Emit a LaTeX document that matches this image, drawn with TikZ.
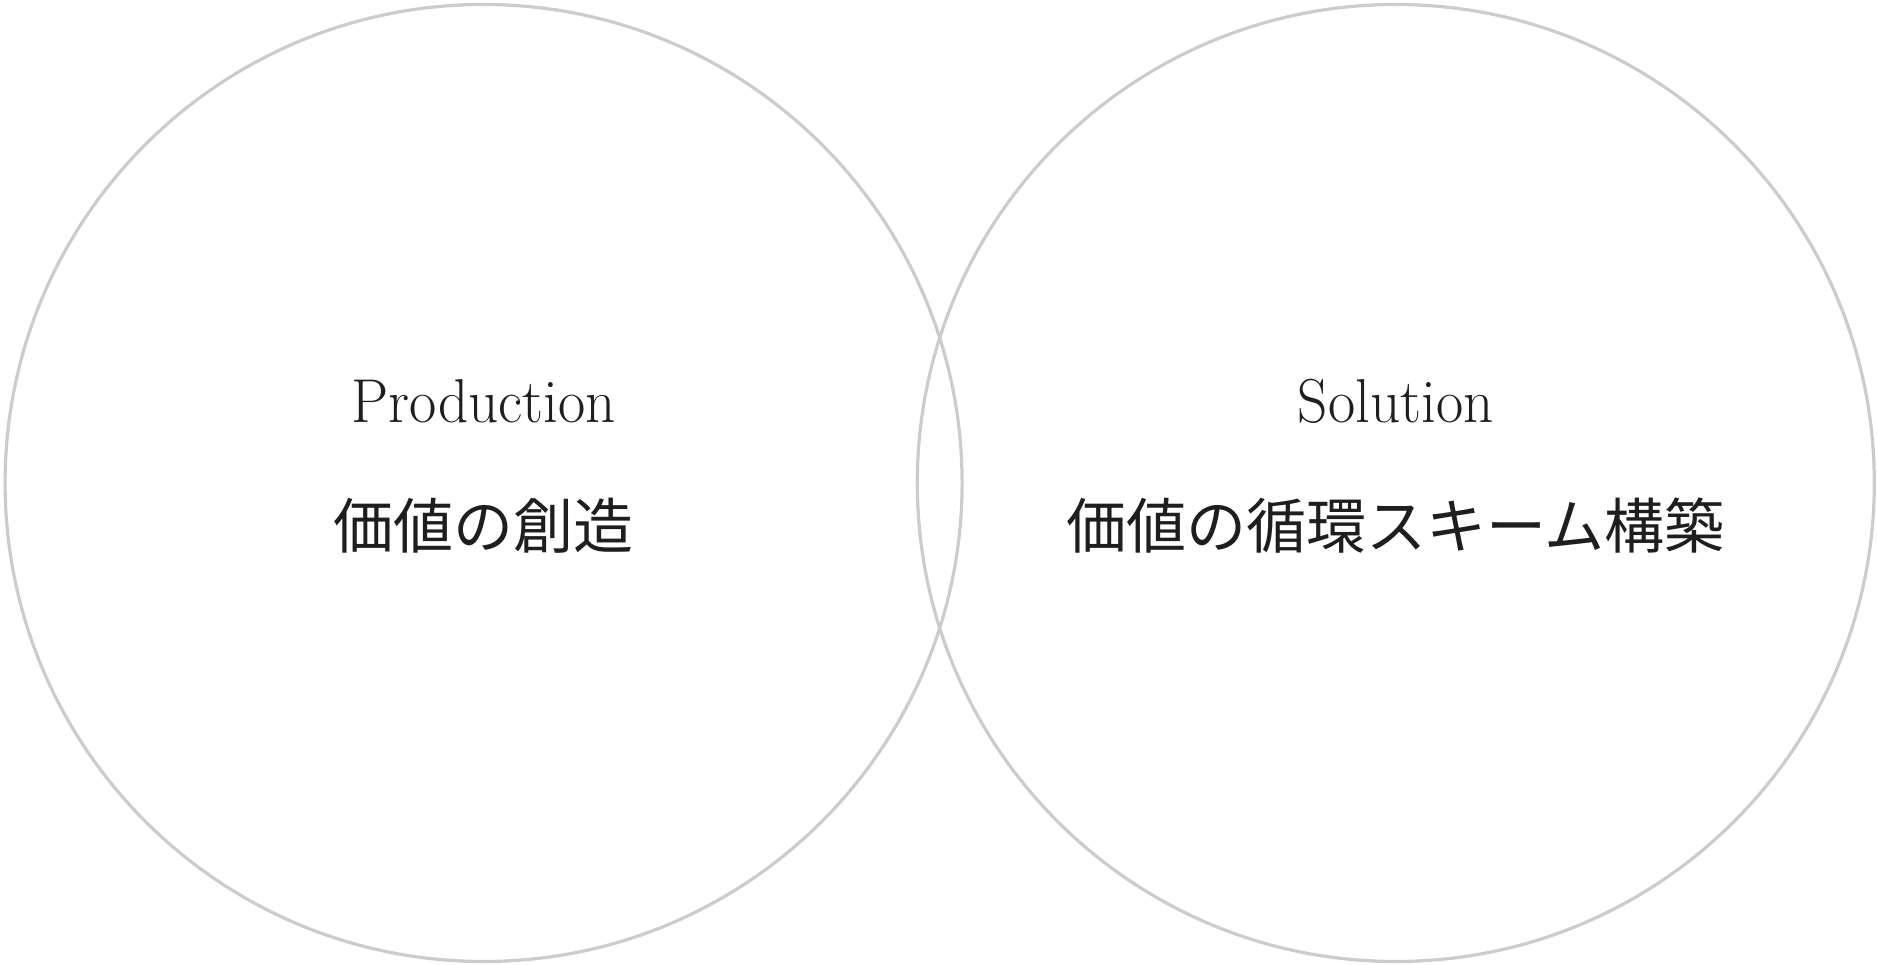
\documentclass[tikz,border=0pt]{standalone}
\usepackage{fontspec}
\usepackage{graphicx}
\newfontfamily\cjk{Noto Sans CJK JP}
\definecolor{ringgray}{RGB}{204,204,204}
\definecolor{inkdark}{RGB}{30,30,30}
\begin{document}
\begin{tikzpicture}[x=1pt,y=1pt,
  ring/.style={circle,draw=ringgray,line width=3.2pt,minimum size=957pt,inner sep=0pt},
  entitle/.style={anchor=base,inner sep=0pt,text=inkdark,font=\fontsize{62}{70}\selectfont},
  jptitle/.style={anchor=base,inner sep=0pt,text=inkdark,font=\cjk\fontsize{60}{70}\selectfont}]
\useasboundingbox (0,0) rectangle (1877,965);
\node[ring] (left) at (483.6,482) {};
\node[ring] (right) at (1395.8,482) {};
\node[entitle] (prod) at (483.6,542) {\scalebox{0.955}[1]{Production}};
\node[jptitle] (prodjp) at (483.6,416) {価値の創造};
\node[entitle] (sol) at (1395.8,542) {\scalebox{0.955}[1]{Solution}};
\node[jptitle] (soljp) at (1395.8,416) {価値の循環スキーム構築};
\end{tikzpicture}
\end{document}
